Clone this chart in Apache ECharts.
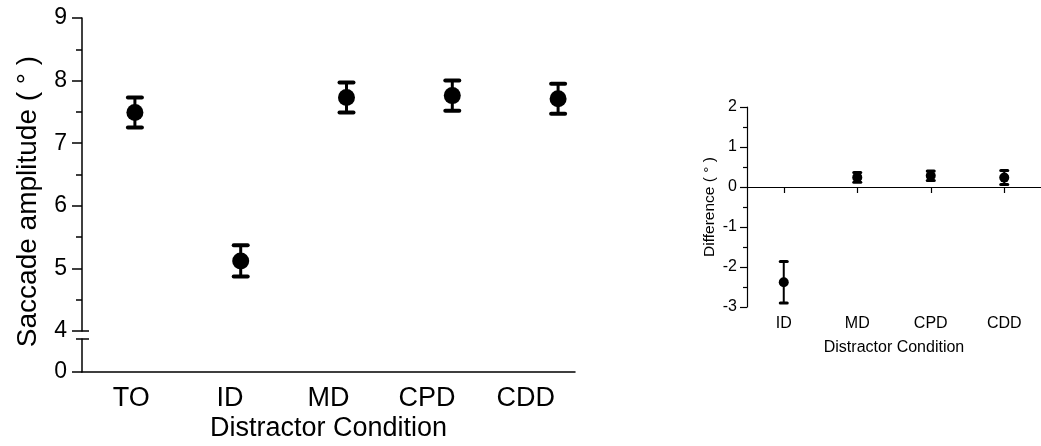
<!DOCTYPE html>
<html><head><meta charset="utf-8">
<script src="https://cdn.jsdelivr.net/npm/echarts@6/dist/echarts.min.js"></script>
<style>html,body{margin:0;padding:0;background:#fff}#c{width:1041px;height:446px}</style>
</head><body><div id="c"></div>
<script>
// ---- data ----
const categories = ['TO', 'ID', 'MD', 'CPD', 'CDD'];
const amplitudeMean = [7.49, 5.12, 7.73, 7.76, 7.71];
const amplitudeErr = [0.24, 0.25, 0.24, 0.24, 0.24];
const diffCategories = ['ID', 'MD', 'CPD', 'CDD'];
const diffMean = [-2.38, 0.24, 0.28, 0.235];
const diffErr = [0.52, 0.12, 0.12, 0.175];
const breakLow = 0.5;   // axis break: lower segment ends here
const breakHigh = 4;    // upper segment starts here

const FONT = "'Liberation Sans', Arial, sans-serif";
const BLACK = '#000';

function errBar(capW, stemW, capH) {
  return function (params, api) {
    const x = api.value(0), lo = api.value(1), hi = api.value(2);
    const pLo = api.coord([x, lo]), pHi = api.coord([x, hi]);
    return { type: 'group', children: [
      { type: 'line', shape: { x1: pLo[0], y1: pLo[1], x2: pHi[0], y2: pHi[1] }, style: { stroke: BLACK, lineWidth: stemW } },
      { type: 'line', shape: { x1: pHi[0] - capW / 2, y1: pHi[1], x2: pHi[0] + capW / 2, y2: pHi[1] }, style: { stroke: BLACK, lineWidth: capH, lineCap: 'round' } },
      { type: 'line', shape: { x1: pLo[0] - capW / 2, y1: pLo[1], x2: pLo[0] + capW / 2, y2: pLo[1] }, style: { stroke: BLACK, lineWidth: capH, lineCap: 'round' } }
    ]};
  };
}

const line = { show: true, lineStyle: { color: BLACK, width: 1.5 } };
const noSplit = { show: false };

const option = {
  animation: false,
  backgroundColor: '#fff',
  textStyle: { fontFamily: FONT, color: BLACK },
  grid: [
    { left: 82, top: 18, width: 529, height: 313 },
    { left: 82, top: 339, width: 493, height: 33 },
    { left: 747, top: 107, width: 302, height: 200 }
  ],
  xAxis: [
    { gridIndex: 0, type: 'category', data: categories, show: false },
    { gridIndex: 1, type: 'category', data: categories,
      axisLine: { show: true, onZero: false, lineStyle: { color: BLACK, width: 1.5 } },
      axisTick: { show: false },
      axisLabel: { fontSize: 27, color: BLACK, margin: 13, fontFamily: FONT },
      name: 'Distractor Condition', nameLocation: 'middle', nameGap: 43,
      nameTextStyle: { fontSize: 27, color: BLACK, fontFamily: FONT } },
    { gridIndex: 2, type: 'category', data: diffCategories,
      axisLine: { show: true, onZero: true, lineStyle: { color: BLACK, width: 1.2 } },
      axisTick: { show: true, alignWithLabel: true, length: 6, lineStyle: { color: BLACK, width: 1.2 } },
      axisLabel: { show: false } },
    { gridIndex: 2, type: 'category', data: diffCategories, position: 'bottom',
      axisLine: { show: false, onZero: false },
      axisTick: { show: false },
      axisLabel: { fontSize: 16, color: BLACK, margin: 9, fontFamily: FONT },
      name: 'Distractor Condition', nameLocation: 'middle', nameGap: 33,
      nameTextStyle: { fontSize: 16, color: BLACK, fontFamily: FONT } }
  ],
  yAxis: [
    { gridIndex: 0, type: 'value', min: breakHigh, max: 9, interval: 1, position: 'left',
      axisLine: line,
      axisTick: { show: true, length: 10, lineStyle: { color: BLACK, width: 1.5 } },
      minorTick: { show: true, splitNumber: 2, length: 6, lineStyle: { color: BLACK, width: 1.5 } },
      axisLabel: { fontSize: 23, color: BLACK, margin: 15, fontFamily: FONT },
      splitLine: noSplit,
      name: 'Saccade amplitude ( ° )', nameLocation: 'middle', nameGap: 40,
      nameTextStyle: { fontSize: 28, color: BLACK, fontFamily: FONT, padding: [0, 54, 0, 0] } },
    { gridIndex: 0, type: 'value', min: breakHigh, max: 9, position: 'left',
      axisLine: { show: false },
      axisTick: { show: true, inside: true, length: 7, customValues: [breakHigh], lineStyle: { color: BLACK, width: 1.5 } },
      axisLabel: { show: false }, splitLine: noSplit },
    { gridIndex: 1, type: 'value', min: 0, max: breakLow, position: 'left',
      axisLine: line,
      axisTick: { show: true, length: 10, customValues: [0], lineStyle: { color: BLACK, width: 1.5 } },
      axisLabel: { fontSize: 23, color: BLACK, margin: 15, customValues: [0], fontFamily: FONT },
      splitLine: noSplit },
    { gridIndex: 1, type: 'value', min: 0, max: breakLow, position: 'left',
      axisLine: { show: false },
      axisTick: { show: true, length: 6, customValues: [breakLow], lineStyle: { color: BLACK, width: 1.5 } },
      axisLabel: { show: false }, splitLine: noSplit },
    { gridIndex: 1, type: 'value', min: 0, max: breakLow, position: 'left',
      axisLine: { show: false },
      axisTick: { show: true, inside: true, length: 7, customValues: [breakLow], lineStyle: { color: BLACK, width: 1.5 } },
      axisLabel: { show: false }, splitLine: noSplit },
    { gridIndex: 2, type: 'value', min: -3, max: 2, interval: 1, position: 'left',
      axisLine: { show: true, onZero: false, lineStyle: { color: BLACK, width: 1.2 } },
      axisTick: { show: true, length: 7, lineStyle: { color: BLACK, width: 1.2 } },
      minorTick: { show: true, splitNumber: 2, length: 4, lineStyle: { color: BLACK, width: 1.2 } },
      axisLabel: { fontSize: 16, color: BLACK, margin: 10, fontFamily: FONT },
      splitLine: noSplit,
      name: 'Difference ( ° )', nameLocation: 'middle', nameGap: 29,
      nameTextStyle: { fontSize: 15.5, color: BLACK, fontFamily: FONT } }
  ],
  series: [
    { type: 'custom', xAxisIndex: 0, yAxisIndex: 0, renderItem: errBar(14, 3, 4),
      encode: { x: 0, y: [1, 2] }, z: 2,
      data: categories.map((c, i) => [i, amplitudeMean[i] - amplitudeErr[i], amplitudeMean[i] + amplitudeErr[i]]) },
    { type: 'scatter', xAxisIndex: 0, yAxisIndex: 0, symbolSize: 17, z: 3,
      itemStyle: { color: BLACK, opacity: 1 },
      data: categories.map((c, i) => [i, amplitudeMean[i]]) },
    { type: 'custom', xAxisIndex: 2, yAxisIndex: 5, renderItem: errBar(7, 2, 3),
      encode: { x: 0, y: [1, 2] }, z: 2,
      data: diffCategories.map((c, i) => [i, diffMean[i] - diffErr[i], diffMean[i] + diffErr[i]]) },
    { type: 'scatter', xAxisIndex: 2, yAxisIndex: 5, symbolSize: 10, z: 3,
      itemStyle: { color: BLACK, opacity: 1 },
      data: diffCategories.map((c, i) => [i, diffMean[i]]) }
  ]
};

const chart = echarts.init(document.getElementById('c'), null, { renderer: 'canvas' });
chart.setOption(option);
</script>
</body></html>
